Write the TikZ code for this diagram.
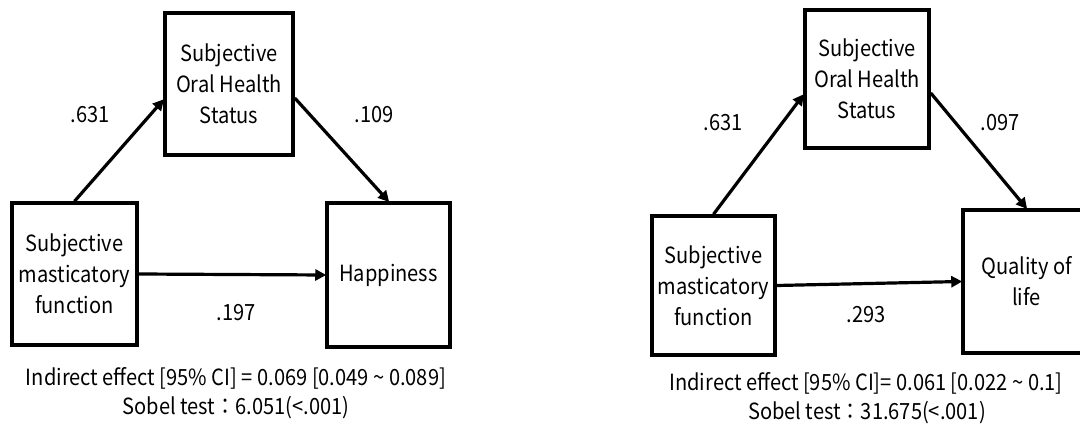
\documentclass[tikz,border=0pt]{standalone}
\usepackage{fontspec}
\setmainfont[FakeStretch=0.9]{Noto Sans CJK KR}
\usetikzlibrary{arrows.meta,calc}
\begin{document}
\begin{tikzpicture}[x=1pt,y=-1pt,
  box/.style={draw,line width=3.5pt,inner sep=0pt,align=center,font=\fontsize{22.3}{31}\selectfont},
  lbl/.style={inner sep=0pt,font=\fontsize{22.3}{31}\selectfont},
  arr/.style={line width=3.2pt,-{Triangle[length=11pt,width=11pt]},shorten >=-1pt}]
\useasboundingbox (0,0) rectangle (1080,425);
\clip (0,0) rectangle (1080,425);
% left panel
\node[box,minimum width=128pt,minimum height=142pt] (ohs) at (229,84) {Subjective\\Oral Health\\Status};
\node[box,minimum width=125pt,minimum height=142pt] (smf) at (74.5,274) {Subjective\\masticatory\\function};
\node[box,minimum width=123pt,minimum height=144pt] (hap) at (388.5,275) {Happiness};
\draw[arr] (smf.north) -- ($(ohs.west)+(0pt,-16pt)$);
\draw[arr] ($(ohs.east)+(0pt,-14pt)$) -- (hap.north);
\draw[arr] (smf.east) -- (hap.west);
\node[lbl] (l1) at (90,115) {.631};
\node[lbl] (l2) at (374,115) {.109};
\node[lbl] (l3) at (236,313) {.197};
\node[lbl] (t1) at (236,378) {Indirect effect [95\% CI] = 0.069 [0.049 \char"007E{} 0.089]};
\node[lbl] (t2) at (236,408) {Sobel test：6.051(<.001)};
% right panel
\node[box,minimum width=124pt,minimum height=138pt] (ohsb) at (867,79) {Subjective\\Oral Health\\Status};
\node[box,minimum width=123pt,minimum height=139pt] (smfb) at (713.5,285.5) {Subjective\\masticatory\\function};
\node[box,minimum width=127pt,minimum height=143pt] (qol) at (1026.5,281.5) {Quality of\\life};
\draw[arr] (smfb.north) -- ($(ohsb.west)+(0pt,-16pt)$);
\draw[arr] ($(ohsb.east)+(0pt,-14pt)$) -- (qol.north);
\draw[arr] (smfb.east) -- (qol.west);
\node[lbl] (r1) at (723,123) {.631};
\node[lbl] (r2) at (1000,123) {.097};
\node[lbl] (r3) at (866,315) {.293};
\node[lbl] (s1) at (866,383) {Indirect effect [95\% CI]= 0.061 [0.022 \char"007E{} 0.1]};
\node[lbl] (s2) at (867,413) {Sobel test：31.675(<.001)};
\end{tikzpicture}
\end{document}
